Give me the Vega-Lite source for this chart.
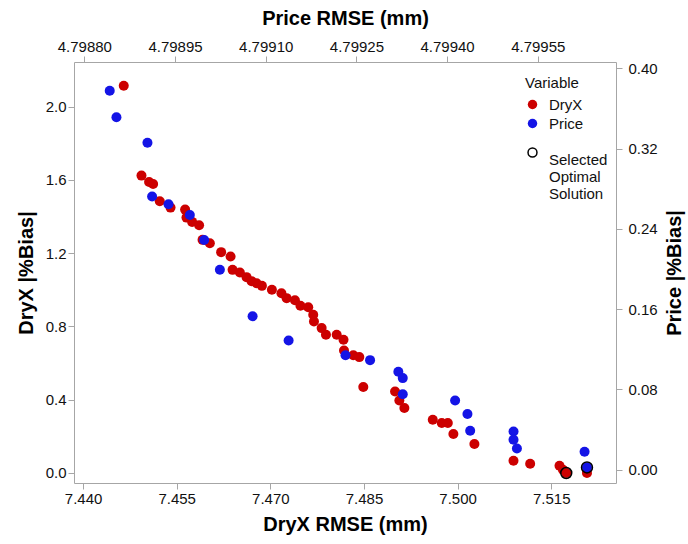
{
  "$schema": "https://vega.github.io/schema/vega-lite/v6.json",
  "autosize": {"type": "none"},
  "width": 542,
  "height": 421,
  "padding": {"left": 74, "top": 62, "right": 72, "bottom": 61},
  "background": "white",
  "config": {
    "view": {"stroke": null},
    "font": "Liberation Sans",
    "axis": {
      "grid": false,
      "domainColor": "#a6a6a6",
      "tickColor": "#a6a6a6",
      "tickSize": 6,
      "labelFont": "Liberation Sans",
      "labelFontSize": 15,
      "labelColor": "#111111",
      "titleFont": "Liberation Sans",
      "titleFontSize": 20,
      "titleFontWeight": "bold",
      "titleColor": "#000000"
    },
    "legend": {
      "labelFont": "Liberation Sans",
      "labelFontSize": 15,
      "labelColor": "#111111",
      "titleFont": "Liberation Sans",
      "titleFontSize": 15,
      "titleFontWeight": "normal",
      "titleColor": "#111111",
      "padding": 0
    }
  },
  "data": {
    "values": [
      {"Variable": "DryX", "RMSE": 7.44652, "Bias": 2.1146, "Selected": false},
      {"Variable": "DryX", "RMSE": 7.44936, "Bias": 1.6236, "Selected": false},
      {"Variable": "DryX", "RMSE": 7.45058, "Bias": 1.5892, "Selected": false},
      {"Variable": "DryX", "RMSE": 7.45122, "Bias": 1.5783, "Selected": false},
      {"Variable": "DryX", "RMSE": 7.45229, "Bias": 1.4839, "Selected": false},
      {"Variable": "DryX", "RMSE": 7.45401, "Bias": 1.449, "Selected": false},
      {"Variable": "DryX", "RMSE": 7.45635, "Bias": 1.4381, "Selected": false},
      {"Variable": "DryX", "RMSE": 7.45657, "Bias": 1.3944, "Selected": false},
      {"Variable": "DryX", "RMSE": 7.45747, "Bias": 1.371, "Selected": false},
      {"Variable": "DryX", "RMSE": 7.45859, "Bias": 1.353, "Selected": false},
      {"Variable": "DryX", "RMSE": 7.45914, "Bias": 1.2728, "Selected": false},
      {"Variable": "DryX", "RMSE": 7.46031, "Bias": 1.2548, "Selected": false},
      {"Variable": "DryX", "RMSE": 7.46212, "Bias": 1.2057, "Selected": false},
      {"Variable": "DryX", "RMSE": 7.46363, "Bias": 1.1817, "Selected": false},
      {"Variable": "DryX", "RMSE": 7.46395, "Bias": 1.1091, "Selected": false},
      {"Variable": "DryX", "RMSE": 7.46512, "Bias": 1.0944, "Selected": false},
      {"Variable": "DryX", "RMSE": 7.46619, "Bias": 1.0693, "Selected": false},
      {"Variable": "DryX", "RMSE": 7.467, "Bias": 1.0475, "Selected": false},
      {"Variable": "DryX", "RMSE": 7.4678, "Bias": 1.0355, "Selected": false},
      {"Variable": "DryX", "RMSE": 7.46865, "Bias": 1.0218, "Selected": false},
      {"Variable": "DryX", "RMSE": 7.47025, "Bias": 1.0, "Selected": false},
      {"Variable": "DryX", "RMSE": 7.47178, "Bias": 0.9809, "Selected": false},
      {"Variable": "DryX", "RMSE": 7.47261, "Bias": 0.9547, "Selected": false},
      {"Variable": "DryX", "RMSE": 7.47394, "Bias": 0.9427, "Selected": false},
      {"Variable": "DryX", "RMSE": 7.47482, "Bias": 0.9127, "Selected": false},
      {"Variable": "DryX", "RMSE": 7.47607, "Bias": 0.9045, "Selected": false},
      {"Variable": "DryX", "RMSE": 7.47687, "Bias": 0.8636, "Selected": false},
      {"Variable": "DryX", "RMSE": 7.47699, "Bias": 0.8271, "Selected": false},
      {"Variable": "DryX", "RMSE": 7.47822, "Bias": 0.7911, "Selected": false},
      {"Variable": "DryX", "RMSE": 7.47891, "Bias": 0.7545, "Selected": false},
      {"Variable": "DryX", "RMSE": 7.48063, "Bias": 0.7545, "Selected": false},
      {"Variable": "DryX", "RMSE": 7.48172, "Bias": 0.7272, "Selected": false},
      {"Variable": "DryX", "RMSE": 7.4818, "Bias": 0.6689, "Selected": false},
      {"Variable": "DryX", "RMSE": 7.48329, "Bias": 0.6427, "Selected": false},
      {"Variable": "DryX", "RMSE": 7.48425, "Bias": 0.6328, "Selected": false},
      {"Variable": "DryX", "RMSE": 7.48489, "Bias": 0.4692, "Selected": false},
      {"Variable": "DryX", "RMSE": 7.48998, "Bias": 0.4452, "Selected": false},
      {"Variable": "DryX", "RMSE": 7.49067, "Bias": 0.3961, "Selected": false},
      {"Variable": "DryX", "RMSE": 7.49147, "Bias": 0.3546, "Selected": false},
      {"Variable": "DryX", "RMSE": 7.49602, "Bias": 0.2908, "Selected": false},
      {"Variable": "DryX", "RMSE": 7.49746, "Bias": 0.2728, "Selected": false},
      {"Variable": "DryX", "RMSE": 7.49843, "Bias": 0.2728, "Selected": false},
      {"Variable": "DryX", "RMSE": 7.49932, "Bias": 0.2128, "Selected": false},
      {"Variable": "DryX", "RMSE": 7.50269, "Bias": 0.1582, "Selected": false},
      {"Variable": "DryX", "RMSE": 7.50895, "Bias": 0.0671, "Selected": false},
      {"Variable": "DryX", "RMSE": 7.51162, "Bias": 0.0507, "Selected": false},
      {"Variable": "DryX", "RMSE": 7.51632, "Bias": 0.0398, "Selected": false},
      {"Variable": "DryX", "RMSE": 7.51687, "Bias": 0.018, "Selected": false},
      {"Variable": "DryX", "RMSE": 7.5174, "Bias": 0.0, "Selected": true},
      {"Variable": "DryX", "RMSE": 7.52072, "Bias": 0.0, "Selected": false},
      {"Variable": "Price", "RMSE": 4.798842, "Bias": 0.3777, "Selected": false},
      {"Variable": "Price", "RMSE": 4.7988531, "Bias": 0.3512, "Selected": false},
      {"Variable": "Price", "RMSE": 4.7989044, "Bias": 0.3259, "Selected": false},
      {"Variable": "Price", "RMSE": 4.7989121, "Bias": 0.2722, "Selected": false},
      {"Variable": "Price", "RMSE": 4.7989392, "Bias": 0.2646, "Selected": false},
      {"Variable": "Price", "RMSE": 4.7989745, "Bias": 0.2539, "Selected": false},
      {"Variable": "Price", "RMSE": 4.7989982, "Bias": 0.229, "Selected": false},
      {"Variable": "Price", "RMSE": 4.7990242, "Bias": 0.1992, "Selected": false},
      {"Variable": "Price", "RMSE": 4.7990783, "Bias": 0.1529, "Selected": false},
      {"Variable": "Price", "RMSE": 4.7991379, "Bias": 0.1288, "Selected": false},
      {"Variable": "Price", "RMSE": 4.799232, "Bias": 0.114, "Selected": false},
      {"Variable": "Price", "RMSE": 4.7992726, "Bias": 0.1092, "Selected": false},
      {"Variable": "Price", "RMSE": 4.7993194, "Bias": 0.0976, "Selected": false},
      {"Variable": "Price", "RMSE": 4.7993267, "Bias": 0.0913, "Selected": false},
      {"Variable": "Price", "RMSE": 4.7993267, "Bias": 0.0752, "Selected": false},
      {"Variable": "Price", "RMSE": 4.7994133, "Bias": 0.069, "Selected": false},
      {"Variable": "Price", "RMSE": 4.7994337, "Bias": 0.0555, "Selected": false},
      {"Variable": "Price", "RMSE": 4.7994382, "Bias": 0.0388, "Selected": false},
      {"Variable": "Price", "RMSE": 4.7995099, "Bias": 0.0381, "Selected": false},
      {"Variable": "Price", "RMSE": 4.7995099, "Bias": 0.0299, "Selected": false},
      {"Variable": "Price", "RMSE": 4.7995155, "Bias": 0.0212, "Selected": false},
      {"Variable": "Price", "RMSE": 4.7996274, "Bias": 0.0179, "Selected": false},
      {"Variable": "Price", "RMSE": 4.7996314, "Bias": 0.0023, "Selected": true}
    ]
  },
  "layer": [
    {
      "transform": [{"filter": "datum.Variable === 'DryX'"}],
      "encoding": {
        "x": {
          "field": "RMSE", "type": "quantitative",
          "scale": {"domain": [7.43855, 7.52537], "nice": false, "zero": false},
          "axis": {
            "orient": "bottom", "title": "DryX RMSE (mm)",
            "values": [7.44, 7.455, 7.47, 7.485, 7.5, 7.515],
            "format": ".3f", "labelPadding": 2, "titlePadding": 8
          }
        },
        "y": {
          "field": "Bias", "type": "quantitative",
          "scale": {"domain": [-0.0546, 2.2439], "nice": false, "zero": false},
          "axis": {
            "orient": "left", "title": "DryX |%Bias|",
            "values": [0, 0.4, 0.8, 1.2, 1.6, 2.0],
            "format": ".1f", "labelPadding": 2, "titlePadding": 9
          }
        }
      },
      "layer": [
        {
          "mark": {"type": "circle", "size": 100, "opacity": 1},
          "encoding": {
            "color": {
              "field": "Variable", "type": "nominal",
              "scale": {"domain": ["DryX", "Price"], "range": ["#cc0000", "#1414e6"]},
              "legend": {
                "title": "Variable", "orient": "none", "legendX": 451, "legendY": 14,
                "symbolType": "circle", "symbolSize": 90, "rowPadding": 3, "titlePadding": 6,
                "labelOffset": 9
              }
            }
          }
        },
        {
          "transform": [{"filter": "datum.Selected"}],
          "mark": {"type": "point", "filled": false, "stroke": "black", "strokeWidth": 1.5, "size": 120, "opacity": 1},
          "encoding": {
            "shape": {
              "datum": "Selected Optimal Solution",
              "scale": {"range": ["circle"]},
              "legend": {
                "title": null, "orient": "none", "legendX": 451, "legendY": 83,
                "symbolSize": 80, "symbolStrokeColor": "black", "symbolFillColor": "transparent",
                "symbolStrokeWidth": 1.5, "labelOffset": 9, "labelLimit": 200,
                "labelExpr": "split(datum.label, ' ')", "labelBaseline": "top"
              }
            }
          }
        }
      ]
    },
    {
      "transform": [{"filter": "datum.Variable === 'Price'"}],
      "encoding": {
        "x": {
          "field": "RMSE", "type": "quantitative",
          "scale": {"domain": [4.7987829, 4.7996794], "nice": false, "zero": false},
          "axis": {
            "orient": "top", "title": "Price RMSE (mm)",
            "values": [4.7988, 4.79895, 4.7991, 4.79925, 4.7994, 4.79955],
            "format": ".5f", "labelPadding": 2, "titlePadding": 11
          }
        },
        "y": {
          "field": "Bias", "type": "quantitative",
          "scale": {"domain": [-0.01324, 0.4063], "nice": false, "zero": false},
          "axis": {
            "orient": "right", "title": "Price |%Bias|",
            "values": [0, 0.08, 0.16, 0.24, 0.32, 0.4],
            "format": ".2f", "labelPadding": 6, "titlePadding": 27, "titleAngle": 270
          }
        }
      },
      "layer": [
        {
          "mark": {"type": "circle", "size": 100, "opacity": 1},
          "encoding": {
            "color": {"field": "Variable", "type": "nominal"}
          }
        },
        {
          "transform": [{"filter": "datum.Selected"}],
          "mark": {"type": "point", "filled": false, "stroke": "black", "strokeWidth": 1.5, "size": 120, "opacity": 1},
          "encoding": {
            "shape": {"datum": "Selected Optimal Solution"}
          }
        }
      ]
    }
  ],
  "resolve": {"scale": {"x": "independent", "y": "independent"}}
}
